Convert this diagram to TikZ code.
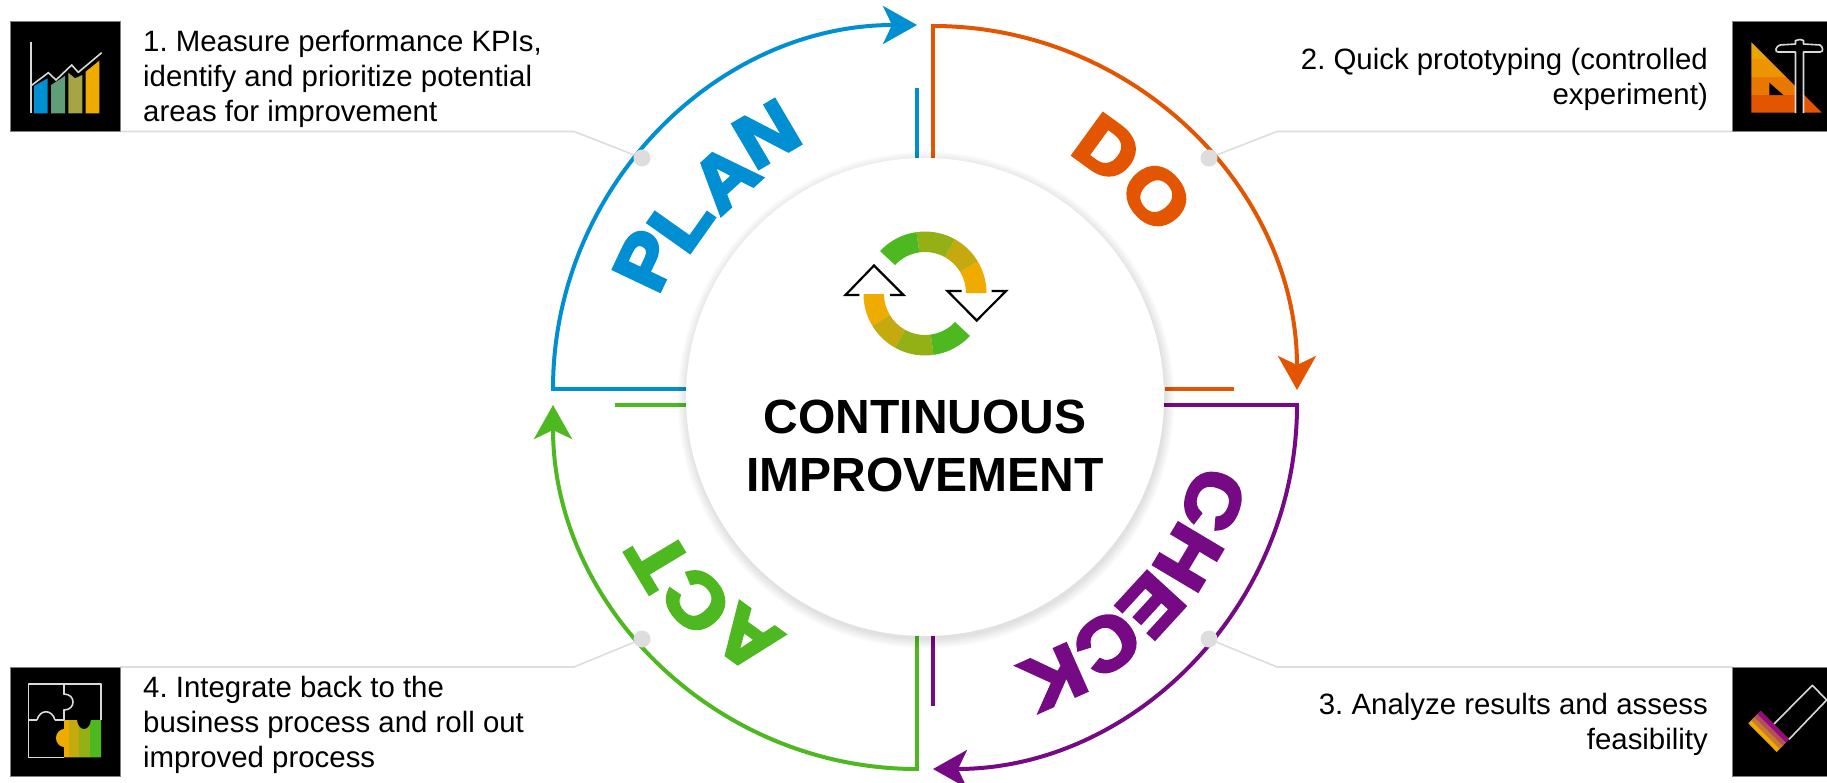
\documentclass[tikz,border=0pt]{standalone}
\usepackage{fontspec}
\setmainfont{Liberation Sans}
\newfontfamily\heavy[FakeBold=5,FakeStretch=1.1]{Liberation Sans Bold}
\usetikzlibrary{arrows.meta}
\definecolor{cblue}{HTML}{008FD3}
\definecolor{corange}{HTML}{E35500}
\definecolor{cpurple}{HTML}{760A85}
\definecolor{cgreen}{HTML}{4DB81F}
\definecolor{gyel}{HTML}{F0AB00}
\definecolor{gol}{HTML}{C4A90F}
\definecolor{glime}{HTML}{93B014}
\definecolor{leadgray}{HTML}{DDDDDD}
\definecolor{barb}{HTML}{5F9E78}
\definecolor{barc}{HTML}{A5A545}
\definecolor{tria}{HTML}{EAA500}
\definecolor{trib}{HTML}{EC9500}
\definecolor{tric}{HTML}{E87800}
\definecolor{chka}{HTML}{970A82}
\definecolor{chkb}{HTML}{B2505A}
\definecolor{chkc}{HTML}{C87A30}
\tikzset{
  x=1pt,y=-1pt,
  loop arc/.style={line width=4pt,line join=miter},
  tick line/.style={line width=4pt},
  lead/.style={leadgray,line width=1.6pt},
  leaddot/.style={circle,fill=leadgray,inner sep=0pt,minimum size=17pt},
  iconbox/.style={fill=black,draw=gray,line width=.8pt},
  wl/.style={white!85!black,line width=1.6pt},
  bodytext/.style={font=\fontsize{29.4}{35}\selectfont\frenchspacing,inner sep=0pt},
  bigletter/.style={font=\heavy\fontsize{74}{74}\selectfont,inner sep=0pt,anchor=center},
  head/.style={-{Stealth[length=34pt,width=38pt,inset=9pt]}},
}
\begin{document}
\begin{tikzpicture}
\useasboundingbox (0,0) rectangle (1827,782);
\fill[white] (0,0) rectangle (1827,782);
% quadrant outlines
\coordinate (bs) at (553,389);\coordinate (be) at (917,25);
\coordinate (os) at (933,26);\coordinate (oe) at (1297,389);
\coordinate (ps) at (1297,405);\coordinate (pe) at (933,769);
\coordinate (gs) at (917,769);\coordinate (ge) at (553,405);
\draw[tick line,cblue] (917,88) -- (917,160);
\draw[tick line,cblue,line cap=rect] (690,389) -- (bs);
\draw[loop arc,cblue,head] (bs) arc[start angle=180,end angle=270,radius=364];
\draw[tick line,corange] (933,160) -- (933,24);
\draw[tick line,corange] (1165,389) -- (1234,389);
\draw[loop arc,corange,head] (os) arc[start angle=-90,end angle=0,radius=364];
\draw[tick line,cpurple,line cap=rect] (1165,405) -- (ps);
\draw[tick line,cpurple] (933,635) -- (933,706);
\draw[loop arc,cpurple,head] (ps) arc[start angle=0,end angle=90,radius=364];
\draw[tick line,cgreen,line cap=rect] (917,635) -- (gs);
\draw[tick line,cgreen] (615,405) -- (687,405);
\draw[loop arc,cgreen,head] (gs) arc[start angle=90,end angle=180,radius=364];
% central disc
\foreach \r in {248,246,...,240}{\fill[black,opacity=.022] (926,400) circle[radius=\r];}
\node[circle,fill=white,minimum size=478pt,inner sep=0pt] (hub) at (925,397) {};
\node[font=\bfseries\fontsize{48}{58}\selectfont,align=center,inner sep=0pt] (title) at (925,446) {CONTINUOUS\\IMPROVEMENT};
% big letters
\foreach \t/\c/\cx/\cy/\a/\r/\n in {P/cblue/917/389/154.6/300/la,L/cblue/917/389/144.7/290/lb,A/cblue/917/389/132.3/286/lc,N/cblue/917/389/120.5/296/ld,
 D/corange/933/389/54/297/le,O/corange/933/389/40.8/295/lf,
 C/cpurple/933/405/-18.7/296/lg,H/cpurple/933/405/-30.8/297/lh,E/cpurple/933/405/-42.5/296/li,C/cpurple/933/405/-53.7/295/lj,K/cpurple/933/405/-66/298/lk,
 A/cgreen/917/405/234/289/ll,C/cgreen/917/405/221.7/295/lm,T/cgreen/917/405/211/301/ln}
 {\node[bigletter,text=\c,rotate=\a-90] (\n) at ({\cx+\r*cos(\a)},{\cy-\r*sin(\a)}) {\t};}
% lead lines
\node[leaddot] (d1) at (642,158) {};
\node[leaddot] (d2) at (1209,158) {};
\node[leaddot] (d3) at (1209,639) {};
\node[leaddot] (d4) at (642,639) {};
% icon 1
\draw[iconbox] (10,21) rectangle (120.5,131.5);
\coordinate (i1) at (120.5,131.5);
\draw[lead] (i1) -- (574,131.5) -- (d1);
\fill[cblue] (34,86) -- (47.7,78.3) -- (47.7,113.3) -- (34,113.3) -- cycle;
\fill[barb] (51,85) -- (65,76) -- (65,113.3) -- (51,113.3) -- cycle;
\fill[barc] (68.3,72.7) -- (75,78.3) -- (82.3,75) -- (82.3,113.3) -- (68.3,113.3) -- cycle;
\fill[gyel] (85.7,71.7) -- (99.3,60.7) -- (99.3,113.3) -- (85.7,113.3) -- cycle;
\draw[wl] (30.7,41.7) -- (30.7,113.3);
\draw[wl] (30.7,86) -- (48.3,72.7) -- (56,80) -- (71.7,65) -- (78.3,72.3) -- (101.7,52.7);
% icon 2
\draw[iconbox] (1732,21) rectangle (1840,131.5);
\coordinate (i2) at (1732,131.5);
\draw[lead] (i2) -- (1277,131.5) -- (d2);
\begin{scope}
\clip (1751.3,42.3) -- (1751.3,112.7) -- (1821.7,112.7) -- cycle;
\fill[tria] (1750,42) rectangle (1825,59.3);
\fill[trib] (1750,59.3) rectangle (1825,76.7);
\fill[tric] (1750,76.7) rectangle (1825,95);
\fill[corange] (1750,95) rectangle (1825,113);
\end{scope}
\fill[black] (1769.3,82.7) -- (1769.3,95) -- (1783.3,95) -- cycle;
\draw[wl,fill=black,line join=round] (1795.5,113) -- (1795.5,52) -- (1778,52) .. controls (1774,52) and (1776,46) .. (1780,45) -- (1795.5,44) -- (1795.5,40.5) -- (1800,39.5) -- (1803.5,40.5) -- (1803.5,44) -- (1820,45) .. controls (1823,47) and (1824,52) .. (1820,52) -- (1803.5,52) -- (1803.5,113);
% icon 3
\draw[iconbox] (1732,667) rectangle (1840,776);
\coordinate (i3) at (1732,667);
\draw[lead] (i3) -- (1277,667) -- (d3);
\draw[wl,line join=round] (1774,724) -- (1812.3,685.3) -- (1826.7,700) -- (1789,739.3);
\begin{scope}
\clip (1748.3,723.3) -- (1760.7,711) -- (1789,739.3) -- (1776.7,752) -- cycle;
\fill[gyel] (1740,700) rectangle (1800,760);
\fill[chkc] (1751.2,720.4) -- (1754.3,717.3) -- (1782.6,745.6) -- (1779.5,748.7) -- cycle;
\fill[chkb] (1754.3,717.3) -- (1757.5,714.2) -- (1785.8,742.5) -- (1782.6,745.6) -- cycle;
\fill[chka] (1757.5,714.2) -- (1760.7,711) -- (1789,739.3) -- (1785.8,742.5) -- cycle;
\end{scope}
% icon 4
\draw[iconbox] (10,667) rectangle (120.5,776);
\coordinate (i4) at (120.5,667);
\draw[lead] (i4) -- (574,667) -- (d4);
\begin{scope}
\clip (56,738) .. controls (56,733) and (60,729) .. (64,729) -- (64,720) -- (77,720) .. controls (78,732) and (90,732) .. (91,720) -- (101,720) -- (101,757.3) -- (64,757.3) -- (64,747) .. controls (60,747) and (56,743) .. (56,738) -- cycle;
\fill[gyel] (50,715) rectangle (68.5,760);
\fill[gol] (68.5,715) rectangle (79.3,760);
\fill[glime] (79.3,715) rectangle (90,760);
\fill[cgreen] (90,715) rectangle (102,760);
\end{scope}
\draw[wl,line join=round] (64,720) -- (28.3,720) -- (28.3,684) -- (101,684) -- (101,720);
\draw[wl] (28.3,720) -- (28.3,757.3) -- (64,757.3);
\draw[wl] (64,684) -- (64,694) .. controls (76,694) and (76,710) .. (64,710) -- (64,720);
\fill[black] (37,718) rectangle (55,722);
\draw[wl] (37,720) .. controls (40,709) and (52,709) .. (55,720);
% texts
\node[bodytext,align=left,anchor=north west] (t1) at (143,30) {1. Measure performance KPIs,\\identify and prioritize potential\\areas for improvement};
\node[bodytext,align=right,anchor=north east] (t2) at (1708,48) {2. Quick prototyping (controlled\\experiment)};
\node[bodytext,align=right,anchor=north east] (t3) at (1708,693) {3. Analyze results and assess\\feasibility};
\node[bodytext,align=left,anchor=north west] (t4) at (143,676) {4. Integrate back to the\\business process and roll out\\improved process};
% centre icon
\foreach \cs/\ce/\cc in {0/31/gyel,31/61/gol,61/98/glime,98/137/cgreen}{
 \fill[\cc] ({925+61.5*cos(\cs)},{293-61.5*sin(\cs)}) arc[start angle=-\cs,end angle=-\ce,radius=61.5] -- ({925+41*cos(\ce)},{293-41*sin(\ce)}) arc[start angle=-\ce,end angle=-\cs,radius=41] -- cycle;
 \fill[\cc] ({925-61.5*cos(\cs)},{294+61.5*sin(\cs)}) arc[start angle=180-\cs,end angle=180-\ce,radius=61.5] -- ({925-41*cos(\ce)},{294+41*sin(\ce)}) arc[start angle=180-\ce,end angle=180-\cs,radius=41] -- cycle;
}
\draw[black,line width=2.2pt,miter limit=4] (859.3,295) -- (845.5,295) -- (874,265.5) -- (903.5,295) -- (890,295);
\draw[black,line width=2.2pt,miter limit=4] (961.7,291) -- (947.5,291) -- (976.7,320.5) -- (1006,291) -- (991.7,291);
\end{tikzpicture}
\end{document}
